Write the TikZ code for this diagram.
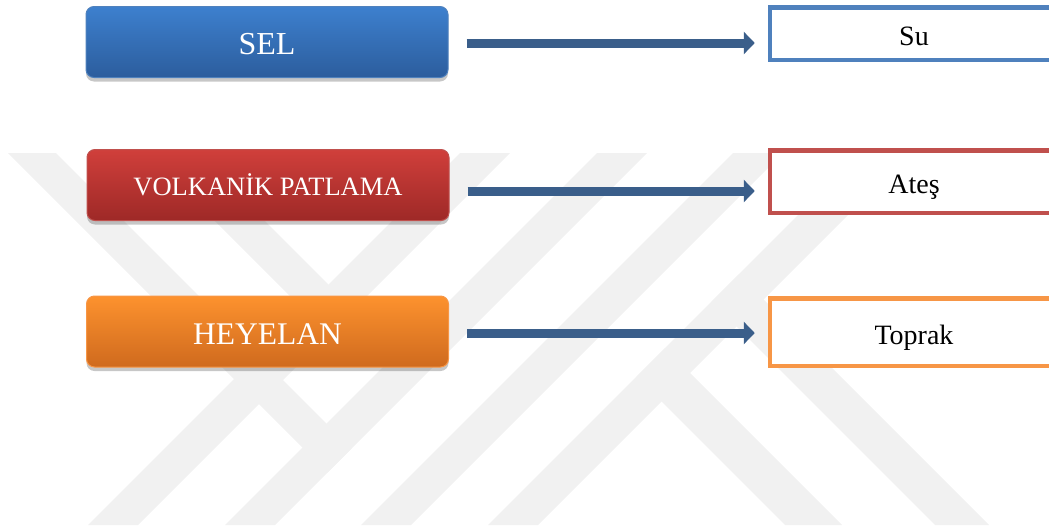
\documentclass[tikz,border=0pt]{standalone}
\usepackage{fontspec}
\setmainfont{Liberation Serif}
\usetikzlibrary{arrows.meta, shadows}

\definecolor{selTop}{RGB}{61,128,206}
\definecolor{selBottom}{RGB}{44,93,157}
\definecolor{selLine}{RGB}{79,129,189}
\definecolor{volTop}{RGB}{208,63,59}
\definecolor{volBottom}{RGB}{158,41,39}
\definecolor{volLine}{RGB}{192,80,77}
\definecolor{heyTop}{RGB}{253,146,46}
\definecolor{heyBottom}{RGB}{207,106,30}
\definecolor{heyLine}{RGB}{247,150,70}
\definecolor{flowBlue}{RGB}{58,94,138}
\definecolor{markGray}{RGB}{241,241,241}

\begin{document}
\begin{tikzpicture}[x=1pt, y=-1pt,
	hazardbox/.style={rounded corners=8pt, line width=1pt, minimum width=362pt, minimum height=71pt, inner sep=0pt, text=white, text depth=0pt, drop shadow={shadow xshift=0pt, shadow yshift=-4pt, fill=black, opacity=0.22}},
	resultbox/.style={draw=#1, line width=4.5pt, fill=white, minimum width=288pt, inner sep=0pt, text height=24pt, text depth=0pt, font=\fontsize{28}{30}\selectfont},
	flowarrow/.style={draw=flowBlue, line width=9pt, -{Triangle[width=22pt, length=11pt]}, shorten <=18pt, shorten >=13pt}]
\useasboundingbox (0,0) rectangle (1049,525);
\clip (0,0) rectangle (1049,525);

% Draw watermark
\foreach \c in {613,750,886,1013}
	\fill[markGray] ({\c-153},153) -- ({\c-103},153) -- ({\c-475},525) -- ({\c-525},525) -- cycle;
\fill[markGray] (8,153) -- (56,153) -- (351.5,448.5) -- (327.5,472.5) -- cycle;
\fill[markGray] (147,153) -- (197,153) -- (353.5,309.5) -- (328.5,334.5) -- cycle;
\fill[markGray] (636.5,376.5) -- (665,348) -- (842,525) -- (785,525) -- cycle;
\fill[markGray] (711.5,301.5) -- (738.5,274.5) -- (989,525) -- (935,525) -- cycle;

% Draw hazards
\node[hazardbox, top color=selTop, bottom color=selBottom, draw=selLine, text height=24pt, font=\fontsize{32}{36}\selectfont] (sel) at (267,42) {SEL};
\node[hazardbox, top color=volTop, bottom color=volBottom, draw=volLine, text height=20pt, font=\fontsize{26.5}{30}\selectfont] (volkan) at (268,185) {VOLKANİK PATLAMA};
\node[hazardbox, top color=heyTop, bottom color=heyBottom, draw=heyLine, text height=25pt, font=\fontsize{31.5}{36}\selectfont] (heyelan) at (267.5,331.5) {HEYELAN};

% Draw elements
\node[resultbox=selLine, minimum height=52.5pt] (su) at (914,33.5) {Su};
\node[resultbox=volLine, minimum height=62.5pt] (ates) at (914,181.5) {Ateş};
\node[resultbox=heyLine, minimum height=67.5pt] (toprak) at (914,332) {Toprak};

% Draw arrows
\coordinate (selOut) at ([yshift=-1pt]sel.east);
\coordinate (volOut) at ([yshift=-6pt]volkan.east);
\coordinate (heyOut) at ([yshift=-1.5pt]heyelan.east);
\draw[flowarrow] (selOut) -- (selOut -| su.west);
\draw[flowarrow] (volOut) -- (volOut -| ates.west);
\draw[flowarrow] (heyOut) -- (heyOut -| toprak.west);
\end{tikzpicture}
\end{document}
